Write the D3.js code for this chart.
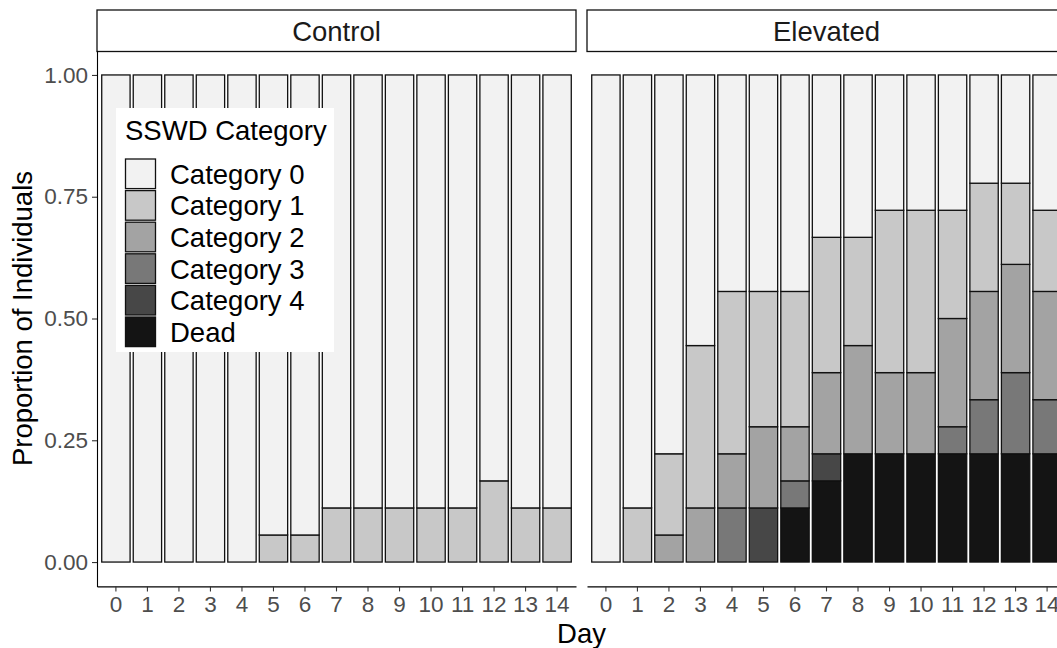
<!DOCTYPE html>
<html>
<head>
<meta charset="utf-8">
<script src="https://cdn.jsdelivr.net/npm/d3@7"></script>
<style>
  body { margin: 0; background: #fff; }
  text { font-family: "Liberation Sans", Arial, Helvetica, sans-serif; }
</style>
</head>
<body>
<div id="vis"></div>
<script>
// SSWD category proportions by day, faceted by treatment (18 individuals per group)

let days = d3.range(0, 15).map(String);
let panels = ['Control', 'Elevated'];
let categories = ['Category 0', 'Category 1', 'Category 2', 'Category 3', 'Category 4', 'Dead'];
let fills = ['#f2f2f2', '#c8c8c8', '#a3a3a3', '#787878', '#474747', '#141414'];
let nPerGroup = 18;

// counts per day
let controlCat0 = [18, 18, 18, 18, 18, 17, 17, 16, 16, 16, 16, 16, 15, 16, 16];
let controlCat1 = [0, 0, 0, 0, 0, 1, 1, 2, 2, 2, 2, 2, 3, 2, 2];
let zeros = [0, 0, 0, 0, 0, 0, 0, 0, 0, 0, 0, 0, 0, 0, 0];

let elevCat0 = [18, 16, 14, 10, 8, 8, 8, 6, 6, 5, 5, 5, 4, 4, 5];
let elevCat1 = [0, 2, 3, 6, 6, 5, 5, 5, 4, 6, 6, 4, 4, 3, 3];
let elevCat2 = [0, 0, 1, 2, 2, 3, 2, 3, 4, 3, 3, 4, 4, 4, 4];
let elevCat3 = [0, 0, 0, 0, 2, 0, 1, 0, 0, 0, 0, 1, 2, 3, 2];
let elevCat4 = [0, 0, 0, 0, 0, 2, 0, 1, 0, 0, 0, 0, 0, 0, 0];
let elevDead = [0, 0, 0, 0, 0, 0, 2, 3, 4, 4, 4, 4, 4, 4, 4];

let yTicks = [0, 0.25, 0.5, 0.75, 1];

let seriesByPanel = {
    'Control': [controlCat0, controlCat1, zeros, zeros, zeros, zeros],
    'Elevated': [elevCat0, elevCat1, elevCat2, elevCat3, elevCat4, elevDead]
};

let width = 1057,
    height = 648,
    panelW = 479,
    panelX = { 'Control': 97, 'Elevated': 587 },
    stripTop = 10,
    stripBottom = 51.5,
    titleSize = 27.5,
    tickSize = 22.5;

let svg = d3.select('#vis')
    .append('svg')
    .attr('width', width)
    .attr('height', height)
    .attr('viewBox', [0, 0, width, height].join(' '))
    .style('overflow', 'hidden');

// y: ggplot style 5% expansion around 0..1
let y = d3.scaleLinear()
    .domain([-0.05, 1.05])
    .range([586.4, 50.6]);

let color = d3.scaleOrdinal().domain(categories).range(fills);

// stack order bottom to top: Dead ... Category 0
let stackKeys = categories.slice().reverse();

panels.forEach(function(p) {
    let x0 = panelX[p];
    let x = d3.scaleBand()
        .domain(days)
        .range([x0, x0 + panelW])
        .paddingInner(0.1)
        .paddingOuter(0.15);

    let rows = days.map(function(d, i) {
        let row = { day: d };
        categories.forEach(function(c, k) {
            row[c] = seriesByPanel[p][k][i] / nPerGroup;
        });
        return row;
    });

    let stacked = d3.stack().keys(stackKeys)(rows);

    let g = svg.append('g').attr('class', 'panel');

    g.selectAll('g.layer')
        .data(stacked)
        .join('g')
        .attr('class', 'layer')
        .attr('fill', function(s) { return color(s.key); })
        .selectAll('rect')
        .data(function(s) { return s.filter(function(v) { return v[1] - v[0] > 1e-9; }); })
        .join('rect')
        .attr('x', function(v) { return x(v.data.day); })
        .attr('width', x.bandwidth())
        .attr('y', function(v) { return y(v[1]); })
        .attr('height', function(v) { return y(v[0]) - y(v[1]); })
        .attr('stroke', '#111')
        .attr('stroke-width', 1.3);

    // x axis
    let xAxis = svg.append('g')
        .attr('transform', 'translate(0,' + y(-0.05) + ')')
        .call(d3.axisBottom(x).tickSize(5).tickSizeOuter(0).tickPadding(5));
    xAxis.select('.domain').attr('stroke', '#000').attr('stroke-width', 1.1);
    xAxis.selectAll('.tick line').attr('stroke', '#333').attr('stroke-width', 1.1);
    xAxis.selectAll('.tick text')
        .attr('font-size', tickSize)
        .attr('fill', '#4d4d4d')
        .style('font-family', '"Liberation Sans", Arial, sans-serif');

    // strip
    svg.append('rect')
        .attr('x', x0)
        .attr('y', stripTop)
        .attr('width', panelW)
        .attr('height', stripBottom - stripTop)
        .attr('fill', '#fff')
        .attr('stroke', '#111')
        .attr('stroke-width', 1.3);
    svg.append('text')
        .attr('x', x0 + panelW / 2)
        .attr('y', 41)
        .attr('text-anchor', 'middle')
        .attr('font-size', titleSize)
        .attr('fill', '#1a1a1a')
        .text(p);
});

// y axis only on first panel
let yAxis = svg.append('g')
    .attr('transform', 'translate(' + panelX['Control'] + ',0)')
    .call(d3.axisLeft(y).tickValues(yTicks).tickFormat(d3.format('.2f')).tickSize(5).tickSizeOuter(0).tickPadding(4));
yAxis.select('.domain').attr('stroke', '#000').attr('stroke-width', 1.1);
yAxis.selectAll('.tick line').attr('stroke', '#333').attr('stroke-width', 1.1);
yAxis.selectAll('.tick text')
    .attr('font-size', tickSize)
    .attr('fill', '#4d4d4d')
    .style('font-family', '"Liberation Sans", Arial, sans-serif');

// axis titles
svg.append('text')
    .attr('transform', 'translate(32,' + (y(0.5)) + ') rotate(-90)')
    .attr('text-anchor', 'middle')
    .attr('font-size', titleSize)
    .text('Proportion of Individuals');

svg.append('text')
    .attr('x', (panelX['Control'] + panelX['Elevated'] + panelW) / 2)
    .attr('y', 643)
    .attr('text-anchor', 'middle')
    .attr('font-size', titleSize)
    .text('Day');

// legend inside the control panel
let legend = svg.append('g').attr('transform', 'translate(116,108)');
legend.append('rect')
    .attr('width', 218)
    .attr('height', 244)
    .attr('fill', '#fff');
legend.append('text')
    .attr('x', 9)
    .attr('y', 32)
    .attr('font-size', titleSize)
    .text('SSWD Category');

let keyH = 31.6;
let item = legend.selectAll('g.key')
    .data(categories)
    .join('g')
    .attr('class', 'key')
    .attr('transform', function(d, i) { return 'translate(9,' + (50 + i * keyH) + ')'; });
item.append('rect')
    .attr('width', 30)
    .attr('height', keyH - 2)
    .attr('x', 0.5)
    .attr('y', 1)
    .attr('fill', function(d) { return color(d); })
    .attr('stroke', '#111')
    .attr('stroke-width', 1.3);
item.append('text')
    .attr('x', 45)
    .attr('y', keyH / 2 + 10)
    .attr('font-size', titleSize)
    .text(function(d) { return d; });
</script>
</body>
</html>
